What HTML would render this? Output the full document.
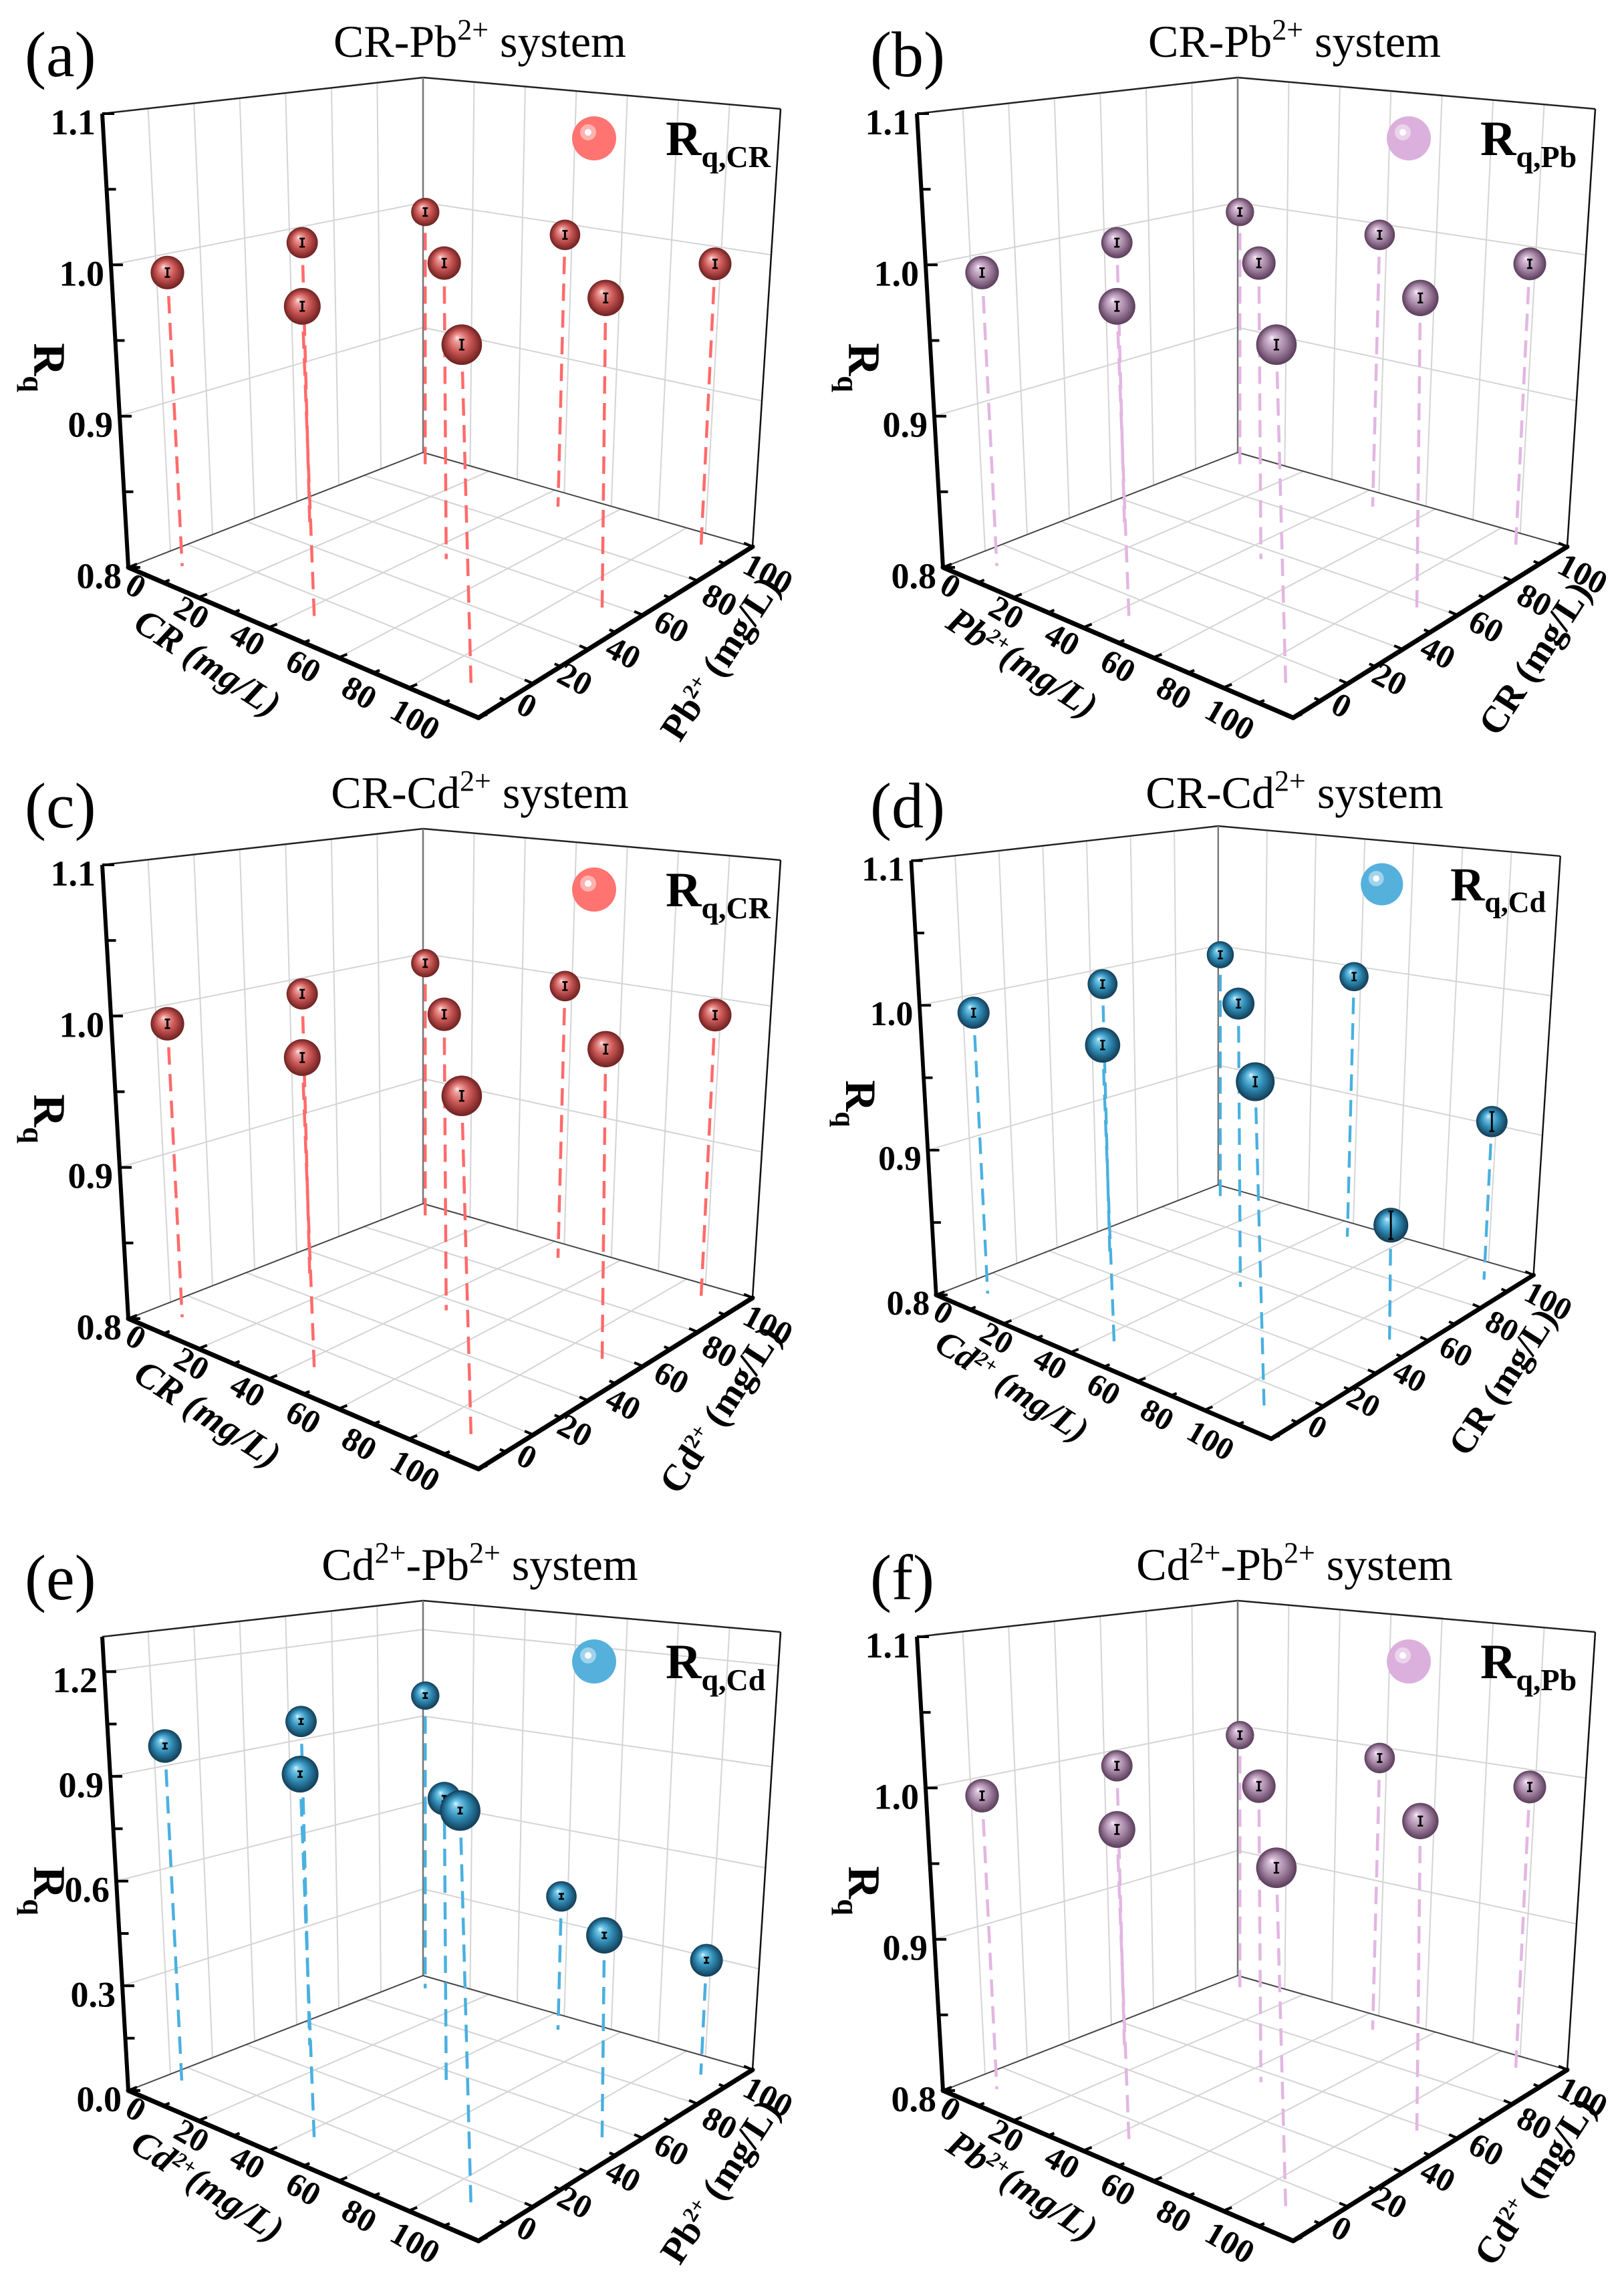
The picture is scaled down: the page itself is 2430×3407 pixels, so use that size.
<!DOCTYPE html>
<html><head><meta charset="utf-8">
<style>
html,body{margin:0;padding:0;background:#fff;}
svg{display:block;font-family:"Liberation Serif","Times New Roman",serif;}
</style></head>
<body>
<svg id="chart" width="2430" height="3407" viewBox="0 0 2430 3407" xmlns="http://www.w3.org/2000/svg">
<defs>
<radialGradient id="gRed" cx="0.5" cy="0.5" r="0.5" fx="0.38" fy="0.32">
<stop offset="0" stop-color="#ffeaea"/><stop offset="0.15" stop-color="#f0a4a2"/><stop offset="0.55" stop-color="#c85654"/><stop offset="1" stop-color="#6e2020"/></radialGradient>
<radialGradient id="gPink" cx="0.5" cy="0.5" r="0.5" fx="0.38" fy="0.32">
<stop offset="0" stop-color="#fbf2fb"/><stop offset="0.15" stop-color="#dcc2dc"/><stop offset="0.55" stop-color="#a88aa8"/><stop offset="1" stop-color="#5a3c5a"/></radialGradient>
<radialGradient id="gBlue" cx="0.5" cy="0.5" r="0.5" fx="0.38" fy="0.32">
<stop offset="0" stop-color="#e2f6ff"/><stop offset="0.15" stop-color="#7ccbeb"/><stop offset="0.55" stop-color="#2f8bb5"/><stop offset="1" stop-color="#123c55"/></radialGradient>
</defs>
<g font-size="68" text-anchor="middle">
<text x="718" y="85">CR-Pb<tspan dy="-26" font-size="44">2+</tspan><tspan dy="26"> system</tspan></text>
<text x="1937" y="85">CR-Pb<tspan dy="-26" font-size="44">2+</tspan><tspan dy="26"> system</tspan></text>
<text x="718" y="1209">CR-Cd<tspan dy="-26" font-size="44">2+</tspan><tspan dy="26"> system</tspan></text>
<text x="1937" y="1209">CR-Cd<tspan dy="-26" font-size="44">2+</tspan><tspan dy="26"> system</tspan></text>
<text x="718" y="2364">Cd<tspan dy="-26" font-size="44">2+</tspan><tspan dy="26">-Pb</tspan><tspan dy="-26" font-size="44">2+</tspan><tspan dy="26"> system</tspan></text>
<text x="1937" y="2364">Cd<tspan dy="-26" font-size="44">2+</tspan><tspan dy="26">-Pb</tspan><tspan dy="-26" font-size="44">2+</tspan><tspan dy="26"> system</tspan></text>
</g>
<g font-size="96">
<text x="37" y="114">(a)</text>
<text x="1302" y="114">(b)</text>
<text x="37" y="1238">(c)</text>
<text x="1302" y="1238">(d)</text>
<text x="37" y="2393">(e)</text>
<text x="1302" y="2393">(f)</text>
</g>
</svg>
<script>
// ---- data ----
const ptX = [7, 45, 90, 10, 46, 92, 6, 47, 91];
const ptY = [10, 10, 10, 50, 55, 55, 94, 93, 92];
const rqA = [0.994, 0.990, 0.987, 0.998, 0.997, 0.993, 0.998, 0.998, 0.995];
const rqB = [0.994, 0.990, 0.987, 0.998, 0.997, 0.993, 0.998, 0.998, 0.995];
const rqC = [0.994, 0.990, 0.987, 0.998, 0.997, 0.993, 0.998, 0.998, 0.995];
const rqD = [0.994, 0.990, 0.987, 0.998, 0.997, 0.873, 0.998, 0.998, 0.912];
const rqE = [0.983, 0.968, 0.946, 0.994, 0.818, 0.534, 0.992, 0.421, 0.336];
const rqF = [0.994, 0.990, 0.987, 0.998, 0.997, 0.993, 0.998, 0.998, 0.995];
const errA = [0.002, 0.002, 0.002, 0.002, 0.002, 0.002, 0.002, 0.002, 0.002];
const errD = [0.002, 0.002, 0.002, 0.002, 0.002, 0.008, 0.002, 0.002, 0.006];
const errE = [0.004, 0.004, 0.004, 0.004, 0.004, 0.004, 0.004, 0.004, 0.004];
const zTickVals1 = [0.8, 0.9, 1.0, 1.1];
const zTickLabels1 = ['0.8', '0.9', '1.0', '1.1'];
const zMinor1 = [0.85, 0.95, 1.05];
const zTickVals2 = [0.0, 0.3, 0.6, 0.9, 1.2];
const zTickLabels2 = ['0.0', '0.3', '0.6', '0.9', '1.2'];
const zMinor2 = [0.15, 0.45, 0.75, 1.05];
const hTickVals = [0, 20, 40, 60, 80, 100];
const hTickLabels = ['0', '20', '40', '60', '80', '100'];

// ---- geometry (panel-local) ----
const NS = 'http://www.w3.org/2000/svg';
const svg = document.getElementById('chart');
const G = {L:[192,849],F:[716,1074],R:[1126,818],B:[633,677],Lt:[153,170],Ft:[688,217],Rt:[1168,163],Bt:[633,116]};
function bil(a,b,c,d,u,v){
  const w0=(1-u)*(1-v), w1=u*(1-v), w2=u*v, w3=(1-u)*v;
  return [a[0]*w0+b[0]*w1+c[0]*w2+d[0]*w3, a[1]*w0+b[1]*w1+c[1]*w2+d[1]*w3];
}
function proj(u,v,t){
  const f=bil(G.L,G.F,G.R,G.B,u,v), p=bil(G.Lt,G.Ft,G.Rt,G.Bt,u,v);
  return [f[0]+(p[0]-f[0])*t, f[1]+(p[1]-f[1])*t];
}
function mk(tag, attrs, parent){
  const e=document.createElementNS(NS,tag);
  for(const k in attrs) e.setAttribute(k, attrs[k]);
  parent.appendChild(e); return e;
}
function line(p,q,stroke,w,parent,extra){
  const e=mk('line',{x1:p[0].toFixed(1),y1:p[1].toFixed(1),x2:q[0].toFixed(1),y2:q[1].toFixed(1),stroke:stroke,'stroke-width':w},parent);
  if(extra) for(const k in extra) e.setAttribute(k, extra[k]);
  return e;
}

const panels = [
 {id:'a', tr:'translate(0,0)', z0:0.8, z1:1.1, tv:zTickVals1, tl:zTickLabels1, tm:zMinor1, data:rqA, err:errA, grad:'gRed', drop:'#ff6b6b', leg:'#ff7470', legSub:'q,CR', left:'CR (mg/L)', right:'Pb<tspan dy="-18" font-size="32">2+</tspan><tspan dy="18"> (mg/L)</tspan>'},
 {id:'b', tr:'translate(1219,0)', z0:0.8, z1:1.1, tv:zTickVals1, tl:zTickLabels1, tm:zMinor1, data:rqB, err:errA, grad:'gPink', drop:'#e2b6e2', leg:'#dcb0dc', legSub:'q,Pb', left:'Pb<tspan dy="-18" font-size="32">2+</tspan><tspan dy="18">(mg/L)</tspan>', right:'CR (mg/L)'},
 {id:'c', tr:'translate(0,1124)', z0:0.8, z1:1.1, tv:zTickVals1, tl:zTickLabels1, tm:zMinor1, data:rqC, err:errA, grad:'gRed', drop:'#ff6b6b', leg:'#ff7470', legSub:'q,CR', left:'CR (mg/L)', right:'Cd<tspan dy="-18" font-size="32">2+</tspan><tspan dy="18"> (mg/L)</tspan>'},
 {id:'d', tr:'translate(1217,1125) scale(0.957)', z0:0.8, z1:1.1, tv:zTickVals1, tl:zTickLabels1, tm:zMinor1, data:rqD, err:errD, grad:'gBlue', drop:'#4ab0e0', leg:'#55b0dc', legSub:'q,Cd', left:'Cd<tspan dy="-18" font-size="32">2+</tspan><tspan dy="18"> (mg/L)</tspan>', right:'CR (mg/L)'},
 {id:'e', tr:'translate(0,2279)', z0:0.0, z1:1.3, tv:zTickVals2, tl:zTickLabels2, tm:zMinor2, data:rqE, err:errE, grad:'gBlue', drop:'#4ab0e0', leg:'#55b0dc', legSub:'q,Cd', left:'Cd<tspan dy="-18" font-size="32">2+</tspan><tspan dy="18">(mg/L)</tspan>', right:'Pb<tspan dy="-18" font-size="32">2+</tspan><tspan dy="18"> (mg/L)</tspan>'},
 {id:'f', tr:'translate(1219,2279)', z0:0.8, z1:1.1, tv:zTickVals1, tl:zTickLabels1, tm:zMinor1, data:rqF, err:errA, grad:'gPink', drop:'#e2b6e2', leg:'#dcb0dc', legSub:'q,Pb', left:'Pb<tspan dy="-18" font-size="32">2+</tspan><tspan dy="18">(mg/L)</tspan>', right:'Cd<tspan dy="-18" font-size="32">2+</tspan><tspan dy="18"> (mg/L)</tspan>'}
];

panels.forEach(P => {
  const g = mk('g',{transform:P.tr}, svg);
  
  
  const zt = z => (z - P.z0) / (P.z1 - P.z0);
  const grid = mk('g',{}, g);
  
  
  const GC = '#d4d4d4';
  for(let k=1;k<7;k++){
    line(proj(0,k/7,0),proj(0,k/7,1),GC,2,grid);
    line(proj(k/7,1,0),proj(k/7,1,1),GC,2,grid);
  }
  P.tv.forEach(z => {
    if(z<=P.z0) return;
    const t=zt(z);
    const a=proj(0,0,t), b=proj(0,1,t), c=proj(1,1,t);
    mk('polyline',{points:`${a[0]},${a[1]} ${b[0]},${b[1]} ${c[0]},${c[1]}`,fill:'none',stroke:GC,'stroke-width':2},grid);
  });
  for(let k=1;k<5;k++){
    line(proj(k/5,0,0),proj(k/5,1,0),GC,2,grid);
    line(proj(0,k/5,0),proj(1,k/5,0),GC,2,grid);
  }
  const fr = mk('g',{}, g);
  
  
  const Lt=proj(0,0,1), Bt=proj(0,1,1), Rt=proj(1,1,1), L=proj(0,0,0), B=proj(0,1,0), R=proj(1,1,0), F=proj(1,0,0);
  mk('polyline',{points:`${Lt[0]},${Lt[1]} ${Bt[0]},${Bt[1]} ${Rt[0]},${Rt[1]}`,fill:'none',stroke:'#222','stroke-width':2.5},fr);
  line(B,Bt,'#777',2.5,fr);
  line(R,Rt,'#111',2.5,fr);
  line(L,B,'#444',2,fr);
  line(B,R,'#444',2,fr);
  const zAxis = line(Lt,L,'#000',6,fr);
  
  
  const xAxis = line(L,F,'#000',7,fr,{'stroke-linecap':'round'});
  
  
  const yAxis = line(F,R,'#000',7,fr,{'stroke-linecap':'round'});
  
  
  P.tv.forEach((z,i) => {
    const p=proj(0,0,zt(z));
    line(p,[p[0]+18,p[1]],'#000',4,fr);
    const tx = mk('text',{x:p[0]-10,y:p[1]+31,'text-anchor':'end','font-size':54,'font-weight':'bold'},g);
    
    
    tx.textContent = P.tl[i];
  });
  P.tm.forEach(z => { const p=proj(0,0,zt(z)); line(p,[p[0]+14,p[1]],'#000',4,fr); });
  const dBL=[G.B[0]-G.L[0],G.B[1]-G.L[1]], nBL=Math.hypot(dBL[0],dBL[1]);
  const dFL=[G.L[0]-G.F[0],G.L[1]-G.F[1]], nFL=Math.hypot(dFL[0],dFL[1]);
  for(let v=0; v<=100; v+=10){
    const len = v%20===0 ? 14 : 10;
    const p=proj(v/100,0,0);
    line(p,[p[0]+dBL[0]/nBL*len,p[1]+dBL[1]/nBL*len],'#000',4,fr);
    const q=proj(1,v/100,0);
    line(q,[q[0]+dFL[0]/nFL*len,q[1]+dFL[1]/nFL*len],'#000',4,fr);
  }
  hTickVals.forEach((v,i) => {
    const f=v/100;
    const cx=203+(621-203)*f, cy=877+(1077-877)*f+16;
    const t1 = mk('text',{x:cx,y:cy,'text-anchor':'middle','font-size':50,'font-weight':'bold',transform:`rotate(30 ${cx} ${cy-16})`},g);
    
    
    t1.textContent = hTickLabels[i];
    const dx=788+(1149-788)*f, dy=1056+(859-1056)*f+16;
    const t2 = mk('text',{x:dx,y:dy,'text-anchor':'middle','font-size':50,'font-weight':'bold',transform:`rotate(28 ${dx} ${dy-16})`},g);
    
    
    t2.textContent = hTickLabels[i];
  });
  const at1 = mk('text',{x:310,y:1010,'text-anchor':'middle','font-size':56,'font-weight':'bold','font-style':'italic',transform:'rotate(33 310 993)'},g);
  
  
  at1.innerHTML = P.left;
  const at2 = mk('text',{x:1079,y:1003,'text-anchor':'middle','font-size':56,'font-weight':'bold',transform:'rotate(-57 1079 986)'},g);
  
  
  at2.innerHTML = P.right;
  const at3 = mk('text',{x:46,y:565,'text-anchor':'middle','font-size':68,'font-weight':'bold',transform:'rotate(90 56 560)'},g);
  
  
  at3.innerHTML = 'R<tspan dy="16" font-size="44">q</tspan>';
  const idx = ptX.map((_,i)=>i).sort((a,b)=>(ptX[a]/100-ptY[a]/100)-(ptX[b]/100-ptY[b]/100));
  const marks = mk('g',{}, g);
  
  
  idx.forEach(i => {
    const u=ptX[i]/100, v=ptY[i]/100, t=zt(P.data[i]);
    const c=proj(u,v,t), fl=proj(u,v,0), top=proj(u,v,1);
    const r=0.037*(fl[1]-top[1]);
    const s=(r+10)/Math.max(1,(fl[1]-c[1]));
    const st=[c[0]+(fl[0]-c[0])*s, c[1]+(fl[1]-c[1])*s];
    if(fl[1]>st[1]){
      const dl = line(st,fl,P.drop,4.5,marks,{'stroke-dasharray':'26 14'});
      
      
    }
    const sp = mk('circle',{cx:c[0].toFixed(1),cy:c[1].toFixed(1),r:r.toFixed(1),fill:`url(#${P.grad})`},marks);
    
    
    const e1=proj(u,v,zt(P.data[i]+P.err[i])), e2=proj(u,v,zt(P.data[i]-P.err[i]));
    const eb = line([c[0],e1[1]-2],[c[0],e2[1]+2],'#000',3,marks);
    
    
    line([c[0]-4,e1[1]-2],[c[0]+4,e1[1]-2],'#000',2.5,marks);
    line([c[0]-4,e2[1]+2],[c[0]+4,e2[1]+2],'#000',2.5,marks);
  });
  const lg = mk('g',{}, g);
  
  
  const ls = mk('circle',{cx:889,cy:207,r:33,fill:P.leg},lg);
  
  
  mk('circle',{cx:880,cy:198,r:12,fill:'#fff','fill-opacity':0.45},lg);
  mk('circle',{cx:880,cy:198,r:5,fill:'#fff'},lg);
  const lt = mk('text',{x:996,y:232,'font-size':74,'font-weight':'bold'},lg);
  
  
  lt.innerHTML = 'R<tspan dy="18" font-size="46">' + P.legSub + '</tspan>';
});
</script>
</body></html>
